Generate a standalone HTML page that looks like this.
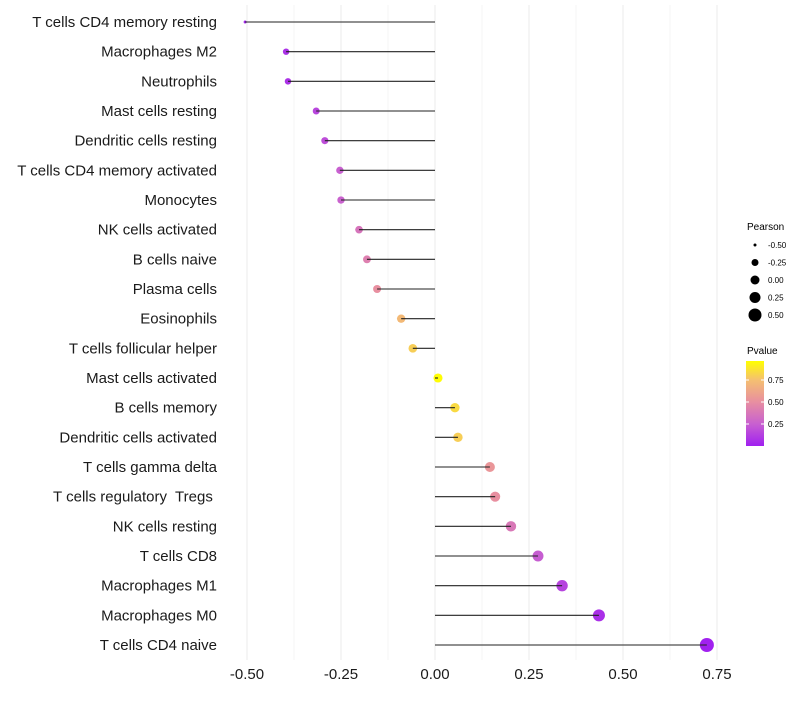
<!DOCTYPE html>
<html><head><meta charset="utf-8"><style>
body{margin:0;background:#fff;font-family:"Liberation Sans",sans-serif}
</style></head><body>
<svg id="chart" width="800" height="700" xmlns="http://www.w3.org/2000/svg" font-family="Liberation Sans, sans-serif">
<defs><linearGradient id="pg" x1="0" y1="1" x2="0" y2="0">
<stop offset="0" stop-color="#a020f0"/><stop offset="0.26" stop-color="#c860d0"/><stop offset="0.52" stop-color="#e88fa0"/><stop offset="0.78" stop-color="#f5c070"/><stop offset="1" stop-color="#ffff00"/></linearGradient></defs>
<g id="grid"></g><g id="dots"></g><g id="marks"></g><g id="labels"></g><g id="axis"></g>
<g>
<text x="747" y="230" font-size="10">Pearson</text>
<g id="sizeleg"></g>
</g>
<g>
<text x="747" y="354" font-size="10">Pvalue</text>
<rect x="746" y="361" width="18" height="85" fill="url(#pg)"/>
<g id="pleg"></g>
</g>
</svg>
<script>
const categories=["T cells CD4 memory resting","Macrophages M2","Neutrophils","Mast cells resting","Dendritic cells resting","T cells CD4 memory activated","Monocytes","NK cells activated","B cells naive","Plasma cells","Eosinophils","T cells follicular helper","Mast cells activated","B cells memory","Dendritic cells activated","T cells gamma delta","T cells regulatory  Tregs ","NK cells resting","T cells CD8","Macrophages M1","Macrophages M0","T cells CD4 naive"];
const pearson=[-0.505,-0.396,-0.391,-0.316,-0.293,-0.253,-0.25,-0.202,-0.181,-0.154,-0.09,-0.059,0.008,0.053,0.061,0.146,0.16,0.202,0.274,0.338,0.436,0.723];
const pvalue=[0.02,0.07,0.07,0.15,0.18,0.25,0.26,0.36,0.42,0.5,0.72,0.8,0.96,0.84,0.8,0.54,0.5,0.38,0.24,0.14,0.06,0.005];
const xTicks=[-0.5,-0.25,0,0.25,0.5,0.75];
const xTickLabels=["-0.50","-0.25","0.00","0.25","0.50","0.75"];
const sizeLegend=[-0.5,-0.25,0,0.25,0.5];
const sizeLegendR=[1.5,3.5,4.5,5.5,6.5];
const pTicks=[0.25,0.5,0.75];
const NS="http://www.w3.org/2000/svg";
const X=v=>435+v*376;
const Y=i=>22+i*29.667;
const R=v=>v<-0.4?Math.max(1.5,1.5+(v+0.5)*17):(v<0?3.2+(v+0.4)*3.25:4.5+3.5*v);
const PY=p=>446-p*88;
function hex(c){return[parseInt(c.slice(1,3),16),parseInt(c.slice(3,5),16),parseInt(c.slice(5,7),16)]}
const stops=[[0,"#a020f0"],[0.26,"#c860d0"],[0.52,"#e88fa0"],[0.78,"#f5c070"],[1,"#ffff00"]];
function col(p){let t=Math.min(1,Math.max(0,p/0.966));for(let k=1;k<stops.length;k++){if(t<=stops[k][0]){const a=hex(stops[k-1][1]),b=hex(stops[k][1]);const f=(t-stops[k-1][0])/(stops[k][0]-stops[k-1][0]);return"rgb("+a.map((x,j)=>Math.round(x+(b[j]-x)*f)).join(",")+")";}}return"#ffff00";}
function mk(tag,at,parent){const e=document.createElementNS(NS,tag);for(const k in at)e.setAttribute(k,at[k]);parent.appendChild(e);return e;}
const grid=document.getElementById('grid'),dots=document.getElementById('dots'),marks=document.getElementById('marks'),labels=document.getElementById('labels'),axis=document.getElementById('axis');
for(let v=-0.625;v<=0.76;v+=0.125){if(X(v)<228)continue;const l=mk('line',{x1:X(v),x2:X(v),y1:5,y2:660,stroke:Math.abs(v/0.25-Math.round(v/0.25))<1e-6?'#ebebeb':'#f5f5f5','stroke-width':1},grid);

}
categories.forEach((c,i)=>{
const y=Y(i);
const d=mk('circle',{cx:X(pearson[i]),cy:y,r:R(pearson[i]),fill:col(pvalue[i])},dots);


const s=mk('line',{x1:X(0),x2:X(pearson[i]),y1:y,y2:y,stroke:'#222','stroke-width':1.1},marks);


const t=mk('text',{x:217,y:y+5,'text-anchor':'end','font-size':15,fill:'#1a1a1a','xml:space':'preserve'},labels);
t.style.whiteSpace='pre';
t.textContent=c;


});
xTicks.forEach((v,i)=>{const t=mk('text',{x:X(v),y:679,'text-anchor':'middle','font-size':15,fill:'#1a1a1a'},axis);t.textContent=xTickLabels[i];

});
const sl=document.getElementById('sizeleg');
sizeLegend.forEach((v,i)=>{const y=245+i*17.5;const c=mk('circle',{cx:755,cy:y,r:sizeLegendR[i],fill:'#000'},sl);


const t=mk('text',{x:768,y:y+3,'font-size':8},sl);t.textContent=v.toFixed(2);

});
const pl=document.getElementById('pleg');
pTicks.forEach(p=>{const y=PY(p);mk('line',{x1:746,x2:749,y1:y,y2:y,stroke:'#fff'},pl);mk('line',{x1:761,x2:764,y1:y,y2:y,stroke:'#fff'},pl);
const t=mk('text',{x:768,y:y+3,'font-size':8},pl);t.textContent=p.toFixed(2);

});
</script>
</body></html>
